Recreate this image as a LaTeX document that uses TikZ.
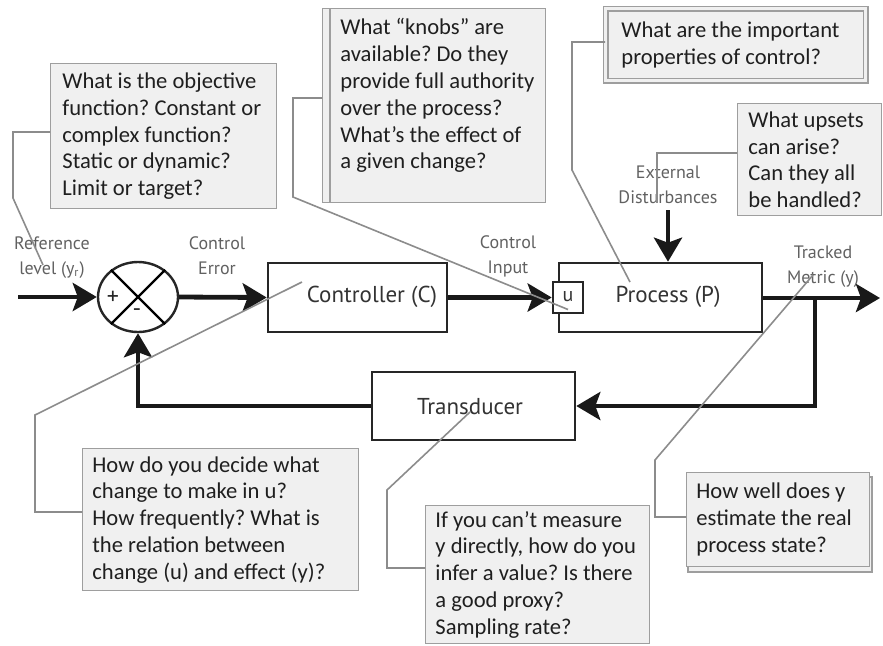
\documentclass[tikz,border=0pt]{standalone}
\usepackage{fontspec}
\setmainfont{Carlito}
\newfontfamily\blockfont{PT Sans}
\usetikzlibrary{arrows.meta,shapes.geometric,calc}

\begin{document}
\begin{tikzpicture}[x=0.5pt, y=-0.5pt, >={Stealth[length=12pt,width=14pt,inset=2.5pt]}]
	\tikzstyle{block}=[draw=black!85, line width=1.3pt, minimum height=34.5pt, inner sep=0pt]
	\tikzstyle{blocktext}=[font=\blockfont\fontsize{11.5}{13}\selectfont, text=black!80]
	\tikzstyle{wire}=[line width=2.4pt, draw=black!90]
	\tikzstyle{lbl}=[font=\blockfont\fontsize{9}{12.5}\selectfont, text=black!62, align=center]
	\tikzstyle{qbox}=[draw=black!38, fill=black!6, line width=0.7pt, anchor=north west, inner sep=0pt]
	\tikzstyle{qtext}=[align=left, anchor=west, inner sep=0pt, text=black!88, font=\fontsize{11.3}{13.4}\selectfont\frenchspacing]
	\tikzstyle{leader}=[draw=black!45, line width=0.8pt]

	\useasboundingbox (0,0) rectangle (883,645);

	% loop blocks
	\node[block, ellipse, line width=1.2pt, minimum width=40pt, minimum height=35pt] (sum) at (138,297) {};
	\draw[line width=1.2pt] (sum.135) -- (sum.-45) (sum.45) -- (sum.-135);
	\node[lbl, text=black!85, font=\blockfont\fontsize{12}{12}\selectfont] (plus) at (113,298) {+};
	\node[lbl, text=black!85, font=\blockfont\fontsize{12}{12}\selectfont] (minus) at (137,313) {-};
	\node[block, minimum width=89.5pt] (ctrl) at (357.5,297.5) {};
	\node[blocktext] (ctrltxt) at (372,297) {Controller (C)};
	\node[block, minimum width=101.5pt] (proc) at (660.5,297.5) {};
	\node[blocktext] (proctxt) at (668,297) {Process (P)};
	\node[block, fill=white, minimum width=15pt, minimum height=15.5pt] (ubox) at (568,297.5) {};
	\node[blocktext, font=\blockfont\fontsize{10}{10}\selectfont] (u) at (568,297) {u};
	\node[block, minimum width=101.5pt, minimum height=34pt] (trans) at (473.5,406) {};
	\node[blocktext] (transtxt) at (470,407) {Transducer};

	\coordinate (in) at (18,297); \coordinate (out) at (880,298);
	\coordinate (tap) at (815,298); \coordinate (dist) at (668,210);

	\draw[wire,->] (in) -- (sum.west);
	\draw[wire,->] (sum.east) -- (ctrl.west);
	\draw[wire,->] (ctrl.east) -- (ubox.west);
	\draw[wire,->] (proc.east |- tap) -- (out);
	\draw[wire,->] (tap) |- (trans.east);
	\draw[wire,->] (trans.west) -| (sum.south);
	\draw[wire,->] (dist) -- (dist |- proc.north);

	% signal labels
	\node[lbl] (reflbl) at (52,258) {Reference\\level (y\textsubscript{r})};
	\node[lbl] (errlbl) at (217,256) {Control\\Error};
	\node[lbl] (inplbl) at (508,256) {Control\\Input};
	\node[lbl] (distlbl) at (668,185) {External\\Disturbances};
	\node[lbl] (ylbl) at (823,267) {Tracked\\Metric (y)};

	% question boxes
	\node[qbox, minimum width=113pt, minimum height=72.5pt] (objq) at (50,63) {};
	\node[qtext] (objqtxt) at ($(objq.west)+(12,0)$)
		{What is the objective\\function? Constant or\\complex function?\\Static or dynamic?\\Limit or target?};
	\node[qbox, minimum width=111.5pt, minimum height=97pt] (knobq) at (322,8) {};
	\draw[draw=black!38, line width=0.7pt] ($(knobq.north west)+(8,0)$) -- ($(knobq.south west)+(8,0)$);
	\node[qtext] (knobqtxt) at ($(knobq.west)+(18,-10)$)
		{What ``knobs'' are\\available? Do they\\provide full authority\\over the process?\\What's the effect of\\a given change?};
	\node[qbox, double=black!6, double distance=1.4pt, minimum width=130pt, minimum height=36pt] (propq) at (605,8) {};
	\node[qtext] (propqtxt) at ($(propq.west)+(16,0)$)
		{What are the important\\properties of control?};
	\node[qbox, minimum width=72pt, minimum height=56pt] (upsetq) at (737,103) {};
	\node[qtext] (upsetqtxt) at ($(upsetq.west)+(11,0)$)
		{What upsets\\can arise?\\Can they all\\be handled?};
	\node[qbox, minimum width=138pt, minimum height=71pt] (decq) at (82,448) {};
	\node[qtext] (decqtxt) at ($(decq.west)+(10,0)$)
		{How do you decide what\\change to make in u?\\How frequently? What is\\the relation between\\change (u) and effect (y)?};
	\node[qbox, minimum width=112pt, minimum height=69pt] (measq) at (425,505) {};
	\node[qtext] (measqtxt) at ($(measq.west)+(10,0)$)
		{If you can't measure\\y directly, how do you\\infer a value? Is there\\a good proxy?\\Sampling rate?};
	\draw[draw=black!38, fill=black!6, line width=0.7pt] (688,477) rectangle (872,572);
	\node[qbox, minimum width=91.5pt, minimum height=47pt] (wellq) at (686,472) {};
	\node[qtext] (wellqtxt) at ($(wellq.west)+(10,0)$)
		{How well does y\\estimate the real\\process state?};

	% leader lines
	\draw[leader] ($(objq.north west)+(0,69)$) -- (13,132) -- (13,198) -- (43,265);
	\draw[leader] ($(knobq.north west)+(0,90)$) -- (293,98) -- (293,197) -- ($(ubox.center)+(0,12)$);
	\draw[leader] ($(propq.north west)+(0,34)$) -- (572,42) -- (572,170) -- (630,282);
	\draw[leader] ($(upsetq.north west)+(0,50)$) -- (657,153) -- (657,203);
	\draw[leader] ($(decq.north west)+(0,64)$) -- (35,512) -- (35,415) -- (302,282);
	\draw[leader] ($(measq.north west)+(0,63)$) -- (387,568) -- (387,490) -- (470,412);
	\draw[leader] ($(wellq.north west)+(0,45)$) -- (655,517) -- (655,460) -- (813,275);
\end{tikzpicture}
\end{document}
